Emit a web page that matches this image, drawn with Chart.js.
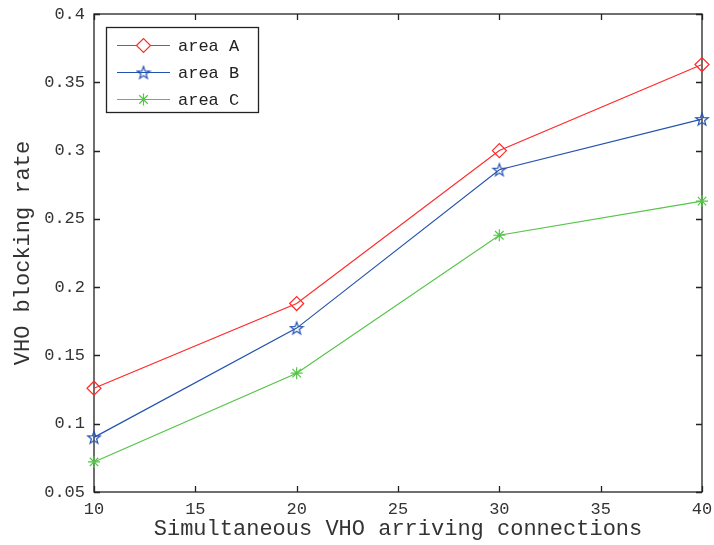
<!DOCTYPE html>
<html>
<head>
<meta charset="utf-8">
<script src="https://cdn.jsdelivr.net/npm/chart.js@4/dist/chart.umd.min.js"></script>
<style>
  html, body { margin: 0; padding: 0; background: #fff; }
  #wrap { width: 714px; height: 545px; }
</style>
</head>
<body>
<div id="wrap"><canvas id="chart" width="714" height="545"></canvas></div>
<script>
// datos
const conexiones = [10, 20, 30, 40];
const areaA = [0.126, 0.188, 0.300, 0.363];
const areaB = [0.090, 0.170, 0.286, 0.323];
const areaC = [0.072, 0.137, 0.238, 0.263];
const etiquetas = ["area A", "area B", "area C"];
const xTicks = [10, 15, 20, 25, 30, 35, 40];
const yTicks = [0.05, 0.1, 0.15, 0.2, 0.25, 0.3, 0.35, 0.4];
const yTickLabels = ["0.05", "0.1", "0.15", "0.2", "0.25", "0.3", "0.35", "0.4"];

const ROJO = "#ff2a2a";
const AZUL = "#2452b0";
const VERDE = "#55c448";
const FUENTE = "'Liberation Mono', 'DejaVu Sans Mono', monospace";

// estrella de 5 puntas (contorno)
function crearEstrella(color) {
  const c = document.createElement("canvas");
  c.width = 16;
  c.height = 16;
  const ctx = c.getContext("2d");
  ctx.strokeStyle = color;
  ctx.lineWidth = 1.2;
  ctx.beginPath();
  for (let i = 0; i < 10; i++) {
    const r = i % 2 === 0 ? 6.6 : 2.7;
    const a = -Math.PI / 2 + i * Math.PI / 5;
    const px = 8 + r * Math.cos(a);
    const py = 8.6 + r * Math.sin(a);
    if (i === 0) ctx.moveTo(px, py); else ctx.lineTo(px, py);
  }
  ctx.closePath();
  ctx.stroke();
  return c;
}
const estrella = crearEstrella(AZUL);

function serie(label, valores, color, estilo, radio) {
  return {
    label: label,
    data: conexiones.map((x, i) => ({ x: x, y: valores[i] })),
    borderColor: color,
    backgroundColor: "rgba(0,0,0,0)",
    pointBorderColor: color,
    pointBackgroundColor: "rgba(0,0,0,0)",
    borderWidth: 1.2,
    pointBorderWidth: 1.2,
    pointStyle: estilo,
    pointRadius: radio,
    pointHoverRadius: radio,
    tension: 0,
    clip: false,
  };
}

// marco con ticks hacia adentro y leyenda estilo matlab
const marcoMatlab = {
  id: "marcoMatlab",
  beforeDatasetsDraw(chart) {
    const ctx = chart.ctx;
    const a = chart.chartArea;
    const sx = chart.scales.x;
    const sy = chart.scales.y;
    ctx.save();
    ctx.strokeStyle = "#222";
    ctx.lineWidth = 1.3;
    ctx.strokeRect(a.left, a.top, a.right - a.left, a.bottom - a.top);
    ctx.beginPath();
    const t = 6;
    xTicks.forEach((v) => {
      const px = Math.round(sx.getPixelForValue(v)) + 0.5;
      ctx.moveTo(px, a.bottom); ctx.lineTo(px, a.bottom - t);
      ctx.moveTo(px, a.top); ctx.lineTo(px, a.top + t);
    });
    yTicks.forEach((v) => {
      const py = Math.round(sy.getPixelForValue(v)) + 0.5;
      ctx.moveTo(a.left, py); ctx.lineTo(a.left + t, py);
      ctx.moveTo(a.right, py); ctx.lineTo(a.right - t, py);
    });
    ctx.stroke();
    ctx.restore();
  },
  afterDraw(chart) {
    const ctx = chart.ctx;
    ctx.save();
    // leyenda
    const lx = 106, ly = 27, lw = 152, lh = 85;
    ctx.fillStyle = "#fff";
    ctx.fillRect(lx, ly, lw, lh);
    ctx.strokeStyle = "#222";
    ctx.lineWidth = 1.3;
    ctx.strokeRect(lx + 0.5, ly + 0.5, lw, lh);
    chart.data.datasets.forEach((ds, i) => {
      const y = ly + 18 + i * 27;
      ctx.strokeStyle = ds.borderColor;
      ctx.lineWidth = 1.2;
      ctx.beginPath();
      ctx.moveTo(lx + 11, y + 0.5);
      ctx.lineTo(lx + 64, y + 0.5);
      ctx.stroke();
      Chart.helpers.drawPoint(ctx, {
        pointStyle: ds.pointStyle,
        radius: ds.pointRadius,
        borderWidth: 1.2,
        rotation: 0,
      }, lx + 37.5, y + 0.5);
      ctx.fillStyle = "#222";
      ctx.font = "17px " + FUENTE;
      ctx.textBaseline = "middle";
      ctx.textAlign = "left";
      ctx.fillText(ds.label, lx + 72, y + 1);
    });
    ctx.restore();
  },
};

const ctxChart = document.getElementById("chart");
new Chart(ctxChart, {
  type: "line",
  data: {
    datasets: [
      serie(etiquetas[0], areaA, ROJO, "rectRot", 7),
      serie(etiquetas[1], areaB, AZUL, estrella, 8),
      serie(etiquetas[2], areaC, VERDE, "star", 6),
    ],
  },
  options: {
    responsive: false,
    animation: false,
    devicePixelRatio: 1,
    layout: { padding: { left: 0, top: 14, right: 12, bottom: 0 } },
    plugins: {
      legend: { display: false },
      tooltip: { enabled: false },
    },
    scales: {
      x: {
        type: "linear",
        min: 10,
        max: 40,
        afterBuildTicks: (s) => { s.ticks = xTicks.map((v) => ({ value: v })); },
        afterFit: (s) => {
          s.height = 53;
          s.paddingLeft = 0;
          s.paddingRight = 0;
        },
        grid: { display: false, drawTicks: false },
        border: { display: false },
        ticks: {
          color: "#333",
          padding: 7,
          font: { family: FUENTE, size: 17 },
          maxRotation: 0,
        },
        title: {
          display: true,
          text: "Simultaneous VHO arriving connections",
          color: "#333",
          font: { family: FUENTE, size: 22 },
          padding: { top: 0, bottom: 3 },
        },
      },
      y: {
        min: 0.05,
        max: 0.4,
        afterBuildTicks: (s) => { s.ticks = yTicks.map((v) => ({ value: v })); },
        afterFit: (s) => {
          s.width = 94;
          s.paddingTop = 0;
          s.paddingBottom = 0;
        },
        grid: { display: false, drawTicks: false },
        border: { display: false },
        ticks: {
          color: "#333",
          padding: 9,
          font: { family: FUENTE, size: 17 },
          callback: (v) => {
            const i = yTicks.findIndex((t) => Math.abs(t - v) < 1e-9);
            return i >= 0 ? yTickLabels[i] : "";
          },
        },
        title: {
          display: true,
          text: "VHO blocking rate",
          color: "#333",
          font: { family: FUENTE, size: 22 },
          padding: { top: 10, bottom: 0 },
        },
      },
    },
  },
  plugins: [marcoMatlab],
});
</script>
</body>
</html>
